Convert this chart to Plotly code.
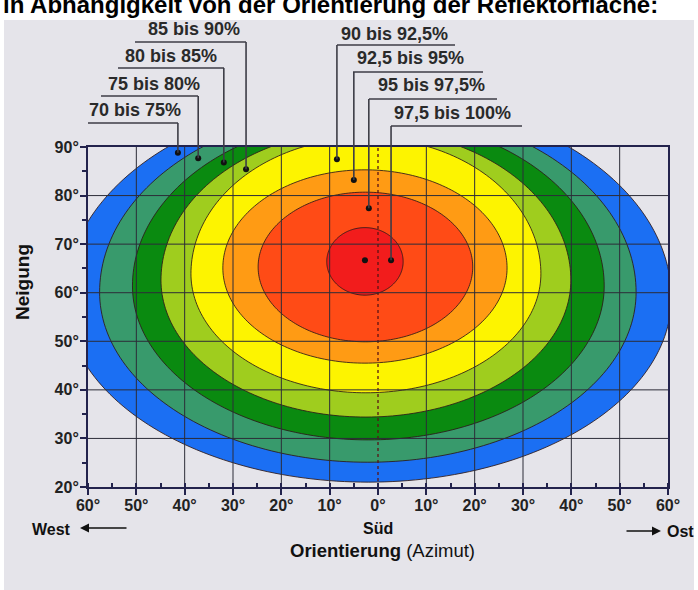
import numpy as np
import plotly.graph_objects as go

# ---------------- data ----------------
band_labels = ["70 bis 75%", "75 bis 80%", "80 bis 85%", "85 bis 90%",
               "90 bis 92,5%", "92,5 bis 95%", "95 bis 97,5%", "97,5 bis 100%"]
band_colors = ["#1b6ff3", "#389a6c", "#0a8a10", "#9fcd1e",
               "#fdf400", "#ff9b14", "#ff4b16", "#f21c1c"]
# contour ellipses: centre (azimuth, tilt), half-width, half-height above / below centre
band_cx = [-2.0, -2.1, -2.0, -2.5, -2.5, -2.7, -2.6, -2.7]
band_cy = [58.9, 60.1, 61.4, 62.6, 63.9, 65.1, 65.3, 66.4]
band_rx = [62.7, 55.5, 48.8, 42.4, 36.2, 29.4, 22.2, 7.9]
band_ry_top = [41.5, 38.0, 34.5, 31.0, 28.0, 20.2, 15.4, 7.0]
band_ry_bot = [37.9, 35.0, 31.7, 28.2, 24.5, 19.6, 15.4, 6.9]

# marker points of the labels (azimuth, tilt)
dot_az = [-41.4, -37.2, -31.9, -27.3, -8.5, -5.0, -1.9, 2.7]
dot_tilt = [88.8, 87.7, 86.8, 85.4, 87.5, 83.2, 77.4, 66.7]
opt_az = [-2.7]
opt_tilt = [66.7]

x_ticks = [-60, -50, -40, -30, -20, -10, 0, 10, 20, 30, 40, 50, 60]
x_ticktext = ["60°", "50°", "40°", "30°", "20°", "10°", "0°", "10°", "20°", "30°", "40°", "50°", "60°"]
y_ticks = [20, 30, 40, 50, 60, 70, 80, 90]
y_ticktext = ["20°", "30°", "40°", "50°", "60°", "70°", "80°", "90°"]

# ---------------- layout geometry (pixels) ----------------
W, H = 698, 590
ML, MR, MT, MB = 88, 30, 147, 103
PW, PH = W - ML - MR, H - MT - MB


def px(xp):
    return (xp - ML) / PW


def py(yp):
    return 1 - (yp - MT) / PH


NAVY = "#23234d"
GRID = "#2c2c38"
FONT = "Liberation Sans, Arial, sans-serif"

fig = go.Figure()
shapes = []

# grey panel
shapes.append(dict(type="rect", xref="paper", yref="paper", x0=px(4), x1=px(694),
                   y0=py(592), y1=py(20), fillcolor="#e5e4ea", line=dict(width=0), layer="below"))

# bands
t = np.linspace(0, 2 * np.pi, 241)
for i in range(len(band_labels)):
    ct, st = np.cos(t), np.sin(t)
    xs = band_cx[i] + band_rx[i] * ct
    ry = np.where(st >= 0, band_ry_top[i], band_ry_bot[i])
    ys = band_cy[i] + ry * st
    path = "M " + " L ".join(f"{a:.3f},{b:.3f}" for a, b in zip(xs, ys)) + " Z"
    shapes.append(dict(type="path", xref="x", yref="y", path=path, fillcolor=band_colors[i],
                       line=dict(color="rgba(45,25,25,0.85)", width=1), layer="below"))

# grid lines
for xv in x_ticks[1:-1]:
    shapes.append(dict(type="line", xref="x", yref="y", x0=xv, x1=xv, y0=20, y1=90,
                       line=dict(color="#5a1414" if xv == 0 else GRID,
                                 width=1.3 if xv == 0 else 1,
                                 dash="dot" if xv == 0 else "solid"), layer="below"))
for yv in y_ticks[1:-1]:
    shapes.append(dict(type="line", xref="x", yref="y", x0=-60, x1=60, y0=yv, y1=yv,
                       line=dict(color=GRID, width=1), layer="below"))

# label leader lines
lab_text_x = [87, 106, 123, 146, 339, 355, 376, 392]
lab_text_y = [110, 84, 56, 29, 34, 58, 85, 113]
lab_ul_y = [123, 96, 68, 42, 45, 72, 99, 126]
lab_ul_x0 = [88, 101, 118, 135, 337, 353, 369, 391]
lab_ul_x1 = [178, 198, 224, 246, 455, 483, 497, 522]
LEAD = "#3c3c46"
annotations = []
for i in range(len(band_labels)):
    shapes.append(dict(type="line", xref="paper", yref="paper", x0=px(lab_ul_x0[i]), x1=px(lab_ul_x1[i]),
                       y0=py(lab_ul_y[i]), y1=py(lab_ul_y[i]), line=dict(color=LEAD, width=1.6)))
    shapes.append(dict(type="line", xref="x", yref="paper", x0=dot_az[i], x1=dot_az[i],
                       y0=1, y1=py(lab_ul_y[i]), line=dict(color=LEAD, width=1.6)))
    shapes.append(dict(type="line", xref="x", yref="y", x0=dot_az[i], x1=dot_az[i],
                       y0=dot_tilt[i], y1=90, line=dict(color=LEAD, width=1.6)))
    annotations.append(dict(text=band_labels[i], xref="paper", yref="paper", x=px(lab_text_x[i]),
                            y=py(lab_text_y[i]), xanchor="left", yanchor="middle", showarrow=False,
                            font=dict(family=FONT, size=18, color="#2a2a2a", weight="bold")))

fig.add_trace(go.Scatter(x=dot_az + opt_az, y=dot_tilt + opt_tilt, mode="markers",
                         marker=dict(color="#111111", size=6), cliponaxis=False,
                         hoverinfo="skip", showlegend=False))

# title (cut at the top edge)
annotations.append(dict(text="in Abhängigkeit von der Orientierung der Reflektorfläche:",
                        xref="paper", yref="paper", x=px(1), y=py(5), xanchor="left", yanchor="middle",
                        showarrow=False, font=dict(family=FONT, size=24, color="#000000", weight="bold")))
# axis titles
annotations.append(dict(text="Neigung", xref="paper", yref="paper", x=px(22), y=py(282),
                        xanchor="center", yanchor="middle", textangle=-90, showarrow=False,
                        font=dict(family=FONT, size=19, color="#111111", weight="bold")))
annotations.append(dict(text="<b>Orientierung</b> (Azimut)", xref="paper", yref="paper",
                        x=px(382), y=py(550), xanchor="center", yanchor="middle", showarrow=False,
                        font=dict(family=FONT, size=18.5, color="#111111")))
annotations.append(dict(text="West", xref="paper", yref="paper", x=px(51), y=py(529),
                        xanchor="center", yanchor="middle", showarrow=False,
                        font=dict(family=FONT, size=16, color="#111111", weight="bold")))
annotations.append(dict(text="Süd", xref="x", yref="paper", x=0, y=py(528),
                        xanchor="center", yanchor="middle", showarrow=False,
                        font=dict(family=FONT, size=16, color="#111111", weight="bold")))
annotations.append(dict(text="Ost", xref="paper", yref="paper", x=px(680), y=py(531),
                        xanchor="center", yanchor="middle", showarrow=False,
                        font=dict(family=FONT, size=16, color="#111111", weight="bold")))
annotations.append(dict(text="", xref="paper", yref="paper", x=px(80), y=py(528), ax=48, ay=0,
                        axref="pixel", ayref="pixel", showarrow=True, arrowhead=2, arrowsize=1.2,
                        arrowwidth=1.5, arrowcolor="#111111"))
annotations.append(dict(text="", xref="paper", yref="paper", x=px(661), y=py(531), ax=-36, ay=0,
                        axref="pixel", ayref="pixel", showarrow=True, arrowhead=2, arrowsize=1.2,
                        arrowwidth=1.5, arrowcolor="#111111"))

axis_font = dict(family=FONT, size=16, color="#222222", weight="bold")
fig.update_layout(
    width=W, height=H,
    margin=dict(l=ML, r=MR, t=MT, b=MB, pad=0),
    paper_bgcolor="#ffffff",
    plot_bgcolor="#ebeaf0",
    shapes=shapes,
    annotations=annotations,
    showlegend=False,
    xaxis=dict(range=[-60, 60], tickvals=x_ticks, ticktext=x_ticktext, showgrid=False, zeroline=False,
               ticks="outside", ticklen=6, tickwidth=2, tickcolor=NAVY, ticklabelstandoff=-3,
               showline=True, mirror=True, linecolor=NAVY, linewidth=2,
               minor=dict(dtick=5, tick0=0, ticks="inside", ticklen=4, tickwidth=2, tickcolor=NAVY),
               tickfont=axis_font, fixedrange=True),
    yaxis=dict(range=[20, 90], tickvals=y_ticks, ticktext=y_ticktext, showgrid=False, zeroline=False,
               ticks="outside", ticklen=6, tickwidth=2, tickcolor=NAVY, ticklabelstandoff=-2,
               showline=True, mirror=True, linecolor=NAVY, linewidth=2,
               minor=dict(dtick=5, tick0=0, ticks="outside", ticklen=4, tickwidth=2, tickcolor=NAVY),
               tickfont=axis_font, fixedrange=True),
)

fig.write_html("out.html", config={"displayModeBar": False},
               post_script="document.body.style.margin='0px';")
